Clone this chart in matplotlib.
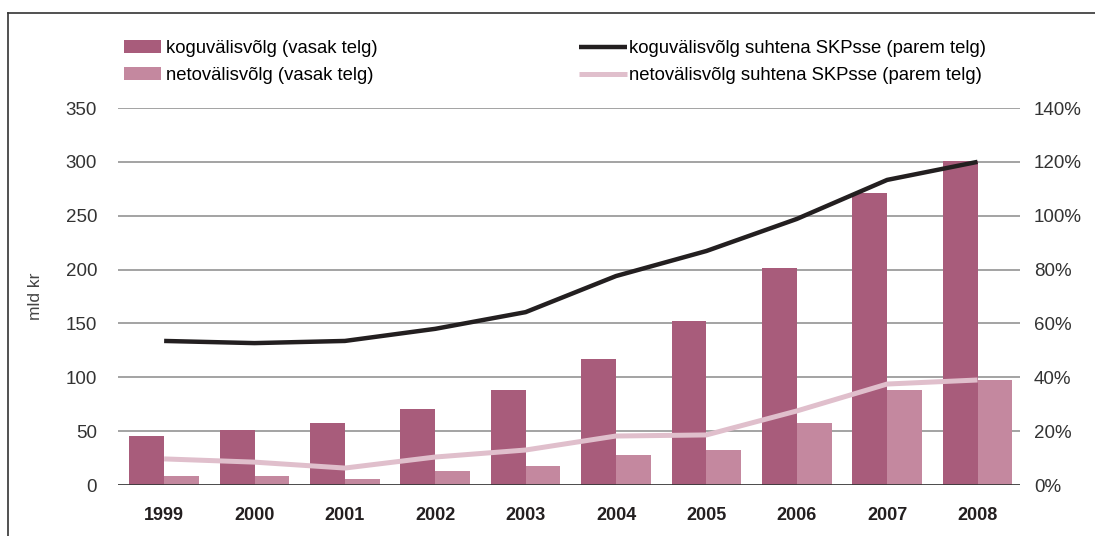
import matplotlib.pyplot as plt
from matplotlib.lines import Line2D
import numpy as np

plt.rcParams['font.family'] = ['Liberation Sans', 'DejaVu Sans']

years = ['1999', '2000', '2001', '2002', '2003', '2004', '2005', '2006', '2007', '2008']
koguvolg = [45.5, 51, 57.5, 70.5, 88, 117, 152, 201.5, 271, 301]
netovolg = [8, 8, 6, 13, 17.5, 28, 32.5, 57.5, 88, 97.5]
kogu_skp = [53.5, 52.7, 53.5, 58, 64.2, 77.6, 86.9, 98.8, 113.3, 120]
neto_skp = [9.7, 8.5, 6.3, 10.4, 13, 18.2, 18.6, 27.5, 37.5, 39]

c_dark = '#A85C7B'
c_light = '#C4889F'
c_black = '#231F20'
c_pink = '#E0BFCC'

fig = plt.figure(figsize=(10.95, 5.36), dpi=100)
ax = fig.add_axes([0.1078, 0.0951, 0.8237, 0.7034])
ax2 = ax.twinx()

x = np.arange(len(years))
w = 0.385
b1 = ax.bar(x - w / 2, koguvolg, w, color=c_dark, zorder=3)
b2 = ax.bar(x + w / 2, netovolg, w, color=c_light, zorder=3)

l1, = ax2.plot(x, kogu_skp, color=c_black, lw=3.2, solid_capstyle='butt')
l2, = ax2.plot(x, neto_skp, color=c_pink, lw=3.6, solid_capstyle='butt')

ax.set_xlim(-0.51, 9.47)
ax.set_ylim(0, 350)
ax2.set_ylim(0, 140)
ax.set_yticks(range(0, 351, 50))
ax2.set_yticks(range(0, 141, 20))
ax2.set_yticklabels([f'{v}%' for v in range(0, 141, 20)])

for v in range(50, 351, 50):
    ax.axhline(v, color='#8a8a8a', lw=1.1, zorder=1)
ax.axhline(0, color='#3a3a3a', lw=2, zorder=4)

for a in (ax, ax2):
    for s in a.spines.values():
        s.set_visible(False)
    a.tick_params(length=0, labelsize=13.5, labelcolor='#333333')
ax.tick_params(axis='y', pad=15)
ax2.tick_params(axis='y', pad=10)
ax.set_xticks(x)
ax.set_xticklabels(years, fontweight='bold', fontsize=13, color='#231F20')
ax.tick_params(axis='x', pad=16)
ax.set_ylabel('mld kr', fontsize=12.5, color='#444444', labelpad=16)

fig.legend([b1, b2], ['koguvälisvõlg (vasak telg)', 'netovälisvõlg (vasak telg)'],
           loc='upper left', bbox_to_anchor=(0.113, 0.925), frameon=False,
           fontsize=13.3, handlelength=2.0, handleheight=0.7, handletextpad=0.3,
           labelspacing=0.55, borderaxespad=0, borderpad=0)
fig.legend([l1, l2], ['koguvälisvõlg suhtena SKPsse (parem telg)',
                      'netovälisvõlg suhtena SKPsse (parem telg)'],
           loc='upper left', bbox_to_anchor=(0.529, 0.925), frameon=False,
           fontsize=13.3, handlelength=2.6, handletextpad=0.1,
           labelspacing=0.55, borderaxespad=0, borderpad=0)

fig.add_artist(Line2D([0.0073, 1.0], [0.976, 0.976], color='#333333', lw=1.2))
fig.add_artist(Line2D([0.0073, 0.0073], [0.0, 0.976], color='#333333', lw=1.2))

plt.savefig('out.png', dpi=100)
plt.close()
